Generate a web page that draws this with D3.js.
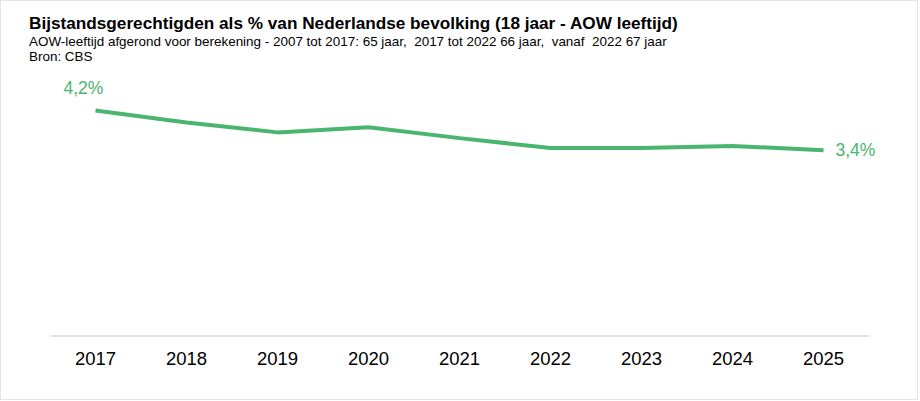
<!DOCTYPE html>
<html>
<head>
<meta charset="utf-8">
<script src="https://cdn.jsdelivr.net/npm/d3@7"></script>
<style>
  body { margin: 0; background: #fff; }
  svg { display: block; font-family: "Liberation Sans", Arial, sans-serif; }
  .pre { white-space: pre; }
</style>
</head>
<body>
<svg id="chart"></svg>
<script>
  // data
  var years = ["2017", "2018", "2019", "2020", "2021", "2022", "2023", "2024", "2025"];
  var shares = [4.20, 3.97, 3.78, 3.88, 3.67, 3.48, 3.48, 3.52, 3.44];

  var title = "Bijstandsgerechtigden als % van Nederlandse bevolking (18 jaar - AOW leeftijd)";
  var subtitle = "AOW-leeftijd afgerond voor berekening - 2007 tot 2017: 65 jaar,  2017 tot 2022 66 jaar,  vanaf  2022 67 jaar";
  var source = "Bron: CBS";

  var width = 920,
    height = 401,
    green = "#4ab56f";

  var svg = d3.select("#chart")
    .attr("width", width)
    .attr("height", height);

  svg.append("rect")
    .attr("x", 0.5)
    .attr("y", 0.5)
    .attr("width", width - 3)
    .attr("height", height - 2)
    .attr("fill", "#fff")
    .attr("stroke", "#e4e4e4");

  // header
  svg.append("text")
    .attr("x", 29)
    .attr("y", 29)
    .attr("font-size", 17.2)
    .attr("font-weight", "bold")
    .attr("fill", "#000")
    .text(title);
  svg.append("text")
    .attr("class", "pre")
    .attr("x", 29)
    .attr("y", 46)
    .attr("font-size", 13.45)
    .attr("fill", "#000")
    .text(subtitle);
  svg.append("text")
    .attr("x", 29)
    .attr("y", 61)
    .attr("font-size", 13.45)
    .attr("fill", "#000")
    .text(source);

  var x = d3.scaleBand()
    .domain(years)
    .range([50, 869]);

  var y = d3.scaleLinear()
    .domain([0, 5])
    .range([329.7, 68.7]);

  var axisY = 335.5;

  var xAxis = svg.append("g")
    .attr("transform", "translate(0," + axisY + ")")
    .call(d3.axisBottom(x).tickSize(0).tickPadding(16));
  xAxis.select(".domain")
    .attr("stroke", "#d9d9d9")
    .attr("stroke-width", 1.5);
  xAxis.selectAll("text")
    .attr("font-family", "\"Liberation Sans\", Arial, sans-serif")
    .attr("font-size", 18.5)
    .attr("fill", "#000");

  var line = d3.line()
    .x(function(d, i) { return x(years[i]) + x.bandwidth() / 2; })
    .y(function(d) { return y(d); });

  svg.append("path")
    .datum(shares)
    .attr("d", line)
    .attr("fill", "none")
    .attr("stroke", green)
    .attr("stroke-width", 4)
    .attr("stroke-linejoin", "round");

  var fmt = function(v) { return d3.format(".1f")(v).replace(".", ",") + "%"; };
  var last = shares.length - 1;

  svg.append("text")
    .attr("x", x(years[0]) + x.bandwidth() / 2 - 32)
    .attr("y", y(shares[0]) - 16)
    .attr("font-size", 17.5)
    .attr("fill", green)
    .text(fmt(shares[0]));

  svg.append("text")
    .attr("x", x(years[last]) + x.bandwidth() / 2 + 12)
    .attr("y", y(shares[last]) + 6)
    .attr("font-size", 17.5)
    .attr("fill", green)
    .text(fmt(shares[last]));
</script>
</body>
</html>
